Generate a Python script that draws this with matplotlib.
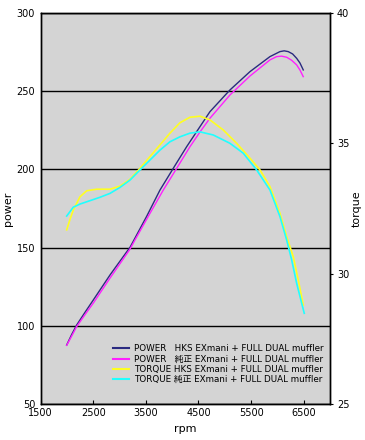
import matplotlib
matplotlib.use("Agg")
import matplotlib.pyplot as plt

rpm_p_hks = [1994, 2090, 2184, 2340, 2500, 2818, 3198, 3274, 3515, 3768, 4021, 4275, 4528, 4718, 5099, 5479, 5859, 6049, 6130, 6207, 6290, 6367, 6430, 6492]
pow_hks   = [87.7, 94.5, 100.5, 108.5, 116.5, 132.5, 150.2, 154.9, 170, 186.8, 200.7, 214.5, 227.3, 236.9, 250.8, 262.5, 272.1, 275.3, 275.8, 275.3, 273.8, 271, 268, 263.6]

rpm_p_std = [1994, 2090, 2184, 2340, 2500, 2818, 3198, 3293, 3578, 3831, 4086, 4338, 4528, 4718, 5099, 5479, 5859, 5986, 6080, 6177, 6270, 6367, 6430, 6492]
pow_std   = [87.5, 93.5, 99.5, 107, 114.5, 130.5, 149, 154.9, 171.9, 186.8, 200.7, 214.5, 223.9, 232.7, 247.6, 259.7, 270, 272.1, 272.4, 271.7, 269.8, 266.8, 263.5, 259.3]

rpm_t_hks = [1994, 2060, 2120, 2247, 2375, 2565, 2818, 3008, 3198, 3388, 3578, 3768, 3958, 4148, 4338, 4528, 4718, 4972, 5226, 5479, 5669, 5859, 6049, 6177, 6302, 6397, 6492]
trq_hks   = [31.68, 32.1, 32.44, 32.95, 33.18, 33.24, 33.24, 33.36, 33.62, 34.04, 34.49, 34.94, 35.39, 35.79, 36.0, 36.04, 35.9, 35.51, 35.0, 34.43, 33.98, 33.34, 32.32, 31.42, 30.65, 29.76, 28.8]

rpm_t_std = [1994, 2120, 2247, 2437, 2627, 2818, 3008, 3198, 3388, 3578, 3768, 3958, 4148, 4338, 4528, 4781, 5099, 5352, 5606, 5859, 6049, 6177, 6272, 6367, 6511]
trq_std   = [32.21, 32.55, 32.67, 32.8, 32.93, 33.08, 33.31, 33.59, 33.98, 34.36, 34.74, 35.06, 35.25, 35.39, 35.44, 35.32, 35.0, 34.62, 33.98, 33.21, 32.19, 31.29, 30.53, 29.63, 28.48]

labels = ["POWER   HKS EXmani + FULL DUAL muffler",
          "POWER   純正 EXmani + FULL DUAL muffler",
          "TORQUE HKS EXmani + FULL DUAL muffler",
          "TORQUE 純正 EXmani + FULL DUAL muffler"]
colors = ["#2a2a80", "#ff20ff", "#ffff20", "#20ffff"]

fam = ["DejaVu Sans", "Noto Sans CJK JP"]
plt.rcParams['font.family'] = fam

fig = plt.figure(figsize=(3.65, 4.4), dpi=100)
ax = fig.add_axes([0.1115, 0.0818, 0.7925, 0.8887])
ax.set_facecolor("#d4d4d4")
ax2 = ax.twinx()

l1, = ax.plot(rpm_p_hks, pow_hks, color=colors[0], lw=1.0)
l2, = ax.plot(rpm_p_std, pow_std, color=colors[1], lw=1.0)
l3, = ax2.plot(rpm_t_hks, trq_hks, color=colors[2], lw=1.2)
l4, = ax2.plot(rpm_t_std, trq_std, color=colors[3], lw=1.2)

ax.set_xlim(1500, 7000)
ax.set_ylim(50, 300)
ax2.set_ylim(25, 40)
ax.set_xticks([1500, 2500, 3500, 4500, 5500, 6500])
ax.set_yticks([50, 100, 150, 200, 250, 300])
ax2.set_yticks([25, 30, 35, 40])
ax.yaxis.grid(True, color="black", lw=1.0)
ax.set_axisbelow(True)

ax.tick_params(axis='x', direction='in', length=3, labelsize=7, colors='black', pad=3)
ax.tick_params(axis='y', direction='in', length=0, labelsize=7, pad=4)
ax2.tick_params(axis='y', direction='out', length=2, labelsize=7, pad=3)
for a in (ax, ax2):
    for s in a.spines.values():
        s.set_color("black")
        s.set_linewidth(1.0)

ax.set_xlabel("rpm", fontsize=8, labelpad=4)
ax.set_ylabel("power", fontsize=8)
ax.yaxis.set_label_coords(-0.095, 0.5)
ax2.set_ylabel("torque", fontsize=8)
ax2.yaxis.set_label_coords(1.075, 0.5)

leg = ax2.legend([l1, l2, l3, l4], labels, loc="lower right", bbox_to_anchor=(1.0, 0.035),
                 frameon=False, fontsize=6.3, handlelength=1.8, handletextpad=0.6,
                 labelspacing=0.15, borderaxespad=0.3)
for h in leg.get_lines():
    h.set_linewidth(1.5)

fig.savefig("out.png", dpi=100)
